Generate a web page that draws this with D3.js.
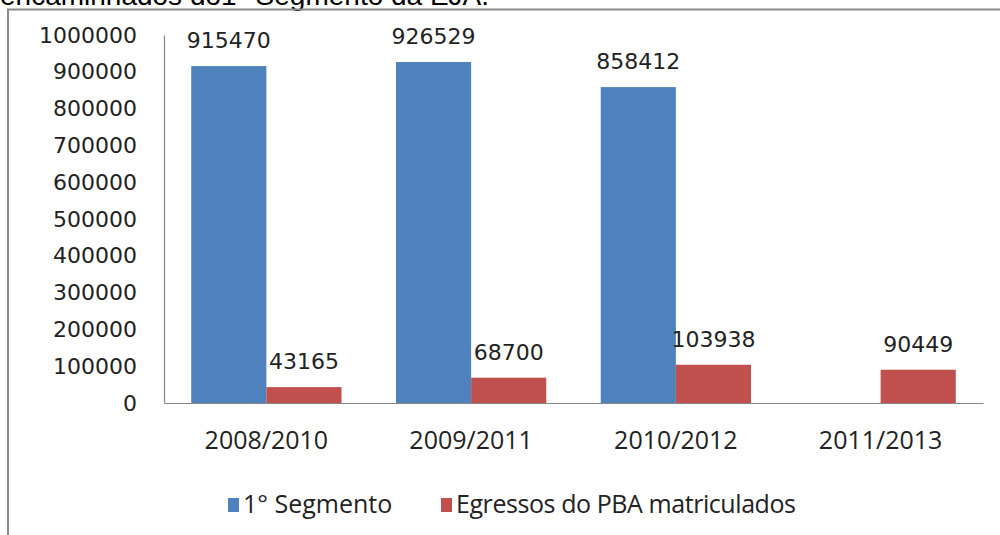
<!DOCTYPE html>
<html>
<head>
<meta charset="utf-8">
<script src="https://cdnjs.cloudflare.com/ajax/libs/d3/7.8.5/d3.min.js"></script>
<style>
  body { margin: 0; background: #fff; }
</style>
</head>
<body>
<div id="chart-Div"></div>
<script>
let width = 1000, height = 535;

// data
const categories = ['2008/2010', '2009/2011', '2010/2012', '2011/2013'];
const seriesNames = ['1° Segmento', 'Egressos do PBA matriculados'];
const segmento = [915470, 926529, 858412, null];
const egressos = [43165, 68700, 103938, 90449];
const yTicks = [0, 100000, 200000, 300000, 400000, 500000, 600000, 700000, 800000, 900000, 1000000];
const colors = ['#4F81BD', '#C0504D'];

let svg = d3.select('#chart-Div')
    .append('svg')
    .attr('width', width)
    .attr('height', height);

// title, cut off at the top of the picture
svg.append('text')
    .attr('x', 0)
    .attr('y', 5)
    .attr('font-family', 'Liberation Sans, Arial, sans-serif')
    .attr('font-size', 28)
    .attr('fill', '#000')
    .text('encaminhados do1° Segmento da EJA.');

// chart frame
svg.append('rect')
    .attr('x', 8)
    .attr('y', 9.5)
    .attr('width', 1010)
    .attr('height', 560)
    .attr('fill', 'none')
    .attr('stroke', '#8a8a8a')
    .attr('stroke-width', 2);

let plot = {left: 164, right: 983, top: 35, bottom: 403};

let xScale = d3.scaleBand()
    .domain(categories)
    .range([plot.left, plot.right])
    .paddingInner(0.266)
    .paddingOuter(0.133);

let subScale = d3.scaleBand()
    .domain([0, 1])
    .range([0, xScale.bandwidth()]);

let yScale = d3.scaleLinear()
    .domain([0, 1000000])
    .range([plot.bottom, plot.top]);

// y axis
let yAxis = d3.axisLeft(yScale)
    .tickValues(yTicks)
    .tickSize(0)
    .tickPadding(27)
    .tickFormat(d3.format('d'));

let yg = svg.append('g')
    .attr('transform', `translate(${plot.left},0)`)
    .call(yAxis);
yg.select('.domain').attr('stroke', '#868686').attr('stroke-width', 1.2);
yg.selectAll('text')
    .attr('font-family', 'DejaVu Sans, Verdana, sans-serif')
    .attr('font-size', 22)
    .attr('fill', '#222');

// bars
let series = [segmento, egressos];
series.forEach((vals, si) => {
    svg.append('g')
        .selectAll('rect')
        .data(vals.map((v, i) => ({cat: categories[i], v: v})).filter(d => d.v != null))
        .join('rect')
        .attr('x', d => xScale(d.cat) + subScale(si))
        .attr('y', d => yScale(d.v))
        .attr('width', subScale.bandwidth())
        .attr('height', d => plot.bottom - yScale(d.v))
        .attr('fill', colors[si]);

    svg.append('g')
        .selectAll('text')
        .data(vals.map((v, i) => ({cat: categories[i], v: v})).filter(d => d.v != null))
        .join('text')
        .attr('x', d => xScale(d.cat) + subScale(si) + subScale.bandwidth() / 2)
        .attr('y', d => yScale(d.v) - 18)
        .attr('text-anchor', 'middle')
        .attr('font-family', 'DejaVu Sans, Verdana, sans-serif')
        .attr('font-size', 22)
        .attr('fill', '#222')
        .text(d => d.v);
});

// x axis
let xAxis = d3.axisBottom(xScale)
    .tickSize(0)
    .tickPadding(28);

let xg = svg.append('g')
    .attr('transform', `translate(0,${plot.bottom})`)
    .call(xAxis);
xg.select('.domain').attr('stroke', '#868686').attr('stroke-width', 1.2);
xg.selectAll('text')
    .attr('font-family', 'Open Sans, sans-serif')
    .attr('font-size', 25)
    .attr('fill', '#222');

// legend
let legendX = [228, 441];
seriesNames.forEach((name, i) => {
    let g = svg.append('g').attr('transform', `translate(${legendX[i]},498)`);
    g.append('rect')
        .attr('width', 11)
        .attr('height', 14)
        .attr('fill', colors[i]);
    g.append('text')
        .attr('x', 15)
        .attr('y', 15)
        .attr('font-family', 'Open Sans, sans-serif')
        .attr('font-size', 25)
        .attr('fill', '#222')
        .attr('textLength', i === 1 ? 340 : null)
        .text(name);
});
</script>
</body>
</html>
